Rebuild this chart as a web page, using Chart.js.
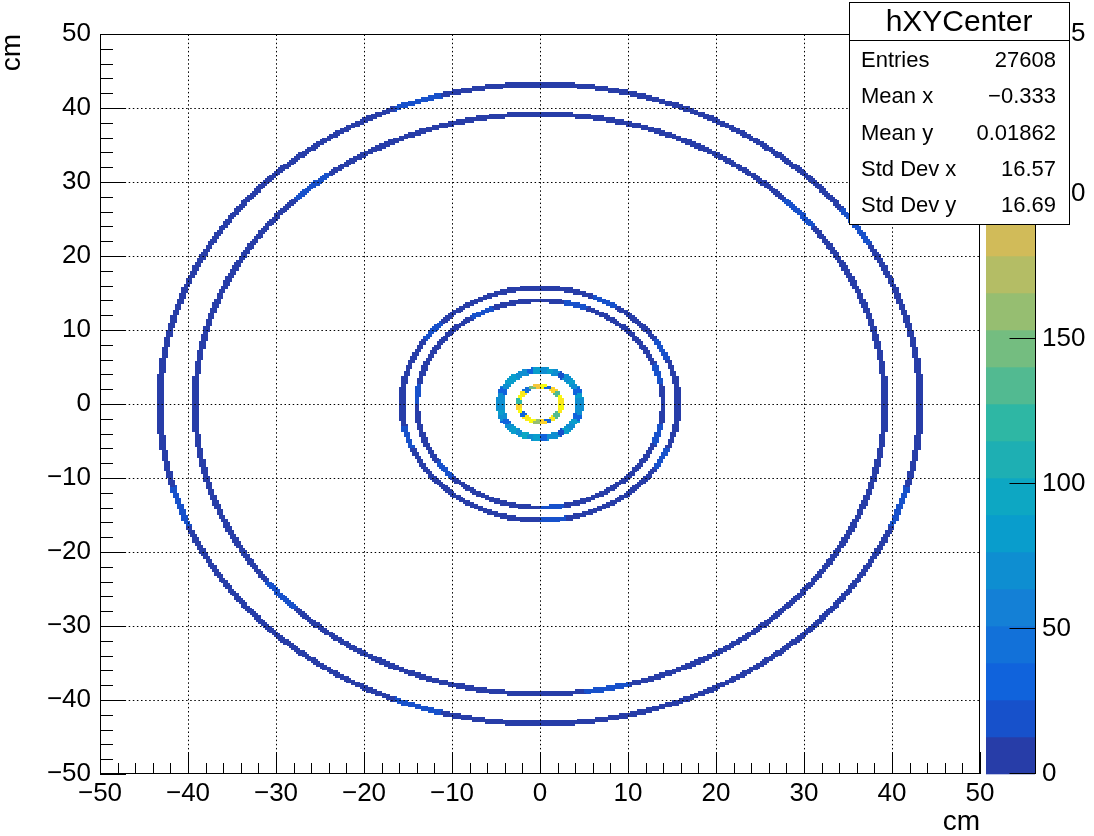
<!DOCTYPE html>
<html>
<head>
<meta charset="utf-8">
<script src="https://cdn.jsdelivr.net/npm/chart.js@4.4.1/dist/chart.umd.min.js"></script>
<style>
html,body{margin:0;padding:0;background:#fff;}
#wrap{width:1094px;height:836px;position:relative;}
canvas{display:block;}
</style>
</head>
<body>
<div id="wrap"><canvas id="c" width="1094" height="836"></canvas></div>
<script>
// ---------------- data ----------------
const histName = 'hXYCenter';
const xTitle = 'cm';
const yTitle = 'cm';
const xRange = [-50, 50];
const yRange = [-50, 50];
const zRange = [0, 255];
const nBinsX = 400;
const nBinsY = 400;
const majorStep = 10;
const minorPerMajor = 5;
const zTickStep = 50;
const nContours = 20;

const statsLabels = ['Entries', 'Mean x', 'Mean y', 'Std Dev x', 'Std Dev y'];
const statsValues = ['27608', '\u22120.333', '0.01862', '16.57', '16.69'];

// rings of filled cells (radius in cm, half width in cm), counts per angular sector (starting at +x, counter-clockwise)
const ringRadius    = [43.2, 39.2, 15.7, 14.0, 4.55, 2.4];
const ringHalfWidth = [0.36, 0.36, 0.34, 0.34, 0.45, 0.32];
const ring1Counts = [9,11,8,11,14,7,10,12,9,8,11,10,10,7,13,9,12,10,8,10,11,9,9,7,12,10,13,8,11,9,10,10,8,14,11,9,12,7,10,10,9,12,8,11,10,13,9,12];
const ring2Counts = [11,8,12,10,9,14,8,12,10,11,9,7,12,11,10,8,10,13,9,11,8,12,10,12,9,11,7,11,10,14,8,12,11,9,10,10,8,13,11,9,12,10,8,10,12,9,11,10];
const ring3Counts = [12,9,14,11,10,15,9,12,10,12,8,11,14,10,12,9,11,13,10,8,12,11,9,12,14,10,12,9,11,15,10,12];
const ring4Counts = [11,13,10,12,9,12,15,10,11,12,14,9,10,12,11,14,12,9,10,14,11,12,12,10,13,9,12,11,10,12,13,9];
const ring5Counts = [72,78,28,66,80,74,22,69,77,64,82,35,73,67,79,88,70,27,76,71,65,81,72,33,75,79,68,92,66,78,38,73,70,24,77,69,83,31,74,68];
const ring6Counts = [240,255,130,228,35,245,210,150,40,232,250,120,218,246,28,236,252,160,222,30,242,138,230,248];
const ringCounts = [ring1Counts, ring2Counts, ring3Counts, ring4Counts, ring5Counts, ring6Counts];

// ---------------- palette (ROOT kBird) ----------------
const birdStops = [0,0.125,0.25,0.375,0.5,0.625,0.75,0.875,1];
const birdR = [0.2082,0.0592,0.0780,0.0232,0.1802,0.5301,0.8186,0.9956,0.9764];
const birdG = [0.1664,0.3599,0.5041,0.6419,0.7178,0.7492,0.7328,0.7862,0.9832];
const birdB = [0.5293,0.8684,0.8385,0.7914,0.6425,0.4662,0.3499,0.1968,0.0539];
function bird(f){
  let k = 0;
  while (k < birdStops.length - 2 && f > birdStops[k+1]) k++;
  const t = (f - birdStops[k]) / (birdStops[k+1] - birdStops[k]);
  const c = a => Math.round(255 * (a[k] + (a[k+1] - a[k]) * t));
  return 'rgb(' + c(birdR) + ',' + c(birdG) + ',' + c(birdB) + ')';
}
const bandColors = [];
for (let i = 0; i < nContours; i++) bandColors.push(bird(Math.floor((i + 0.99) * 255 / nContours) / 254));
function colorFor(v){
  const w = (zRange[1] - zRange[0]) / nContours;
  let b = Math.floor((v - zRange[0]) / w);
  if (b < 0) b = 0; if (b > nContours - 1) b = nContours - 1;
  return bandColors[b];
}

// ---------------- rasterise the rings into bins ----------------
const bw = (xRange[1] - xRange[0]) / nBinsX;
const bh = (yRange[1] - yRange[0]) / nBinsY;
const cells = [];
for (let i = 0; i < nBinsX; i++) {
  const xc = xRange[0] + (i + 0.5) * bw;
  for (let j = 0; j < nBinsY; j++) {
    const yc = yRange[0] + (j + 0.5) * bh;
    const r = Math.hypot(xc, yc);
    for (let k = 0; k < ringRadius.length; k++) {
      if (Math.abs(r - ringRadius[k]) <= ringHalfWidth[k]) {
        const arr = ringCounts[k];
        const a = (Math.atan2(yc, xc) + 2 * Math.PI) % (2 * Math.PI);
        const s = Math.min(arr.length - 1, Math.floor(a / (2 * Math.PI) * arr.length));
        cells.push({x: xc, y: yc, v: arr[s]});
        break;
      }
    }
  }
}

// ---------------- chart ----------------
const FONT = '"Liberation Sans", Arial, Helvetica, sans-serif';
const L = 100, R = 980, T = 34, B = 774;
const fmt = v => (v < 0 ? '\u2212' + Math.abs(v) : String(v));

const th2Plugin = {
  id: 'th2',
  beforeDatasetsDraw(chart) {
    const {ctx, chartArea: ca} = chart;
    const xs = chart.scales.x, ys = chart.scales.y;
    const data = chart.data.datasets[0].data;
    ctx.save();
    ctx.beginPath(); ctx.rect(ca.left, ca.top, ca.right - ca.left, ca.bottom - ca.top); ctx.clip();
    for (const c of data) {
      const x0 = Math.round(xs.getPixelForValue(c.x - bw / 2)), x1 = Math.round(xs.getPixelForValue(c.x + bw / 2));
      const y0 = Math.round(ys.getPixelForValue(c.y - bh / 2)), y1 = Math.round(ys.getPixelForValue(c.y + bh / 2));
      ctx.fillStyle = colorFor(c.v);
      ctx.fillRect(x0, y1, x1 - x0, y0 - y1);
    }
    ctx.restore();
  },
  afterDatasetsDraw(chart) {
    const {ctx, chartArea: ca} = chart;
    const xs = chart.scales.x, ys = chart.scales.y, zs = chart.scales.z;
    ctx.save();
    ctx.strokeStyle = '#000';
    ctx.lineWidth = 1;
    // dotted grid
    ctx.setLineDash([1.5, 2.6]);
    xs.ticks.forEach(t => {
      const p = Math.round(xs.getPixelForValue(t.value)) + 0.5;
      if (t.value === xRange[0] || t.value === xRange[1]) return;
      ctx.beginPath(); ctx.moveTo(p, ca.bottom); ctx.lineTo(p, ca.top); ctx.stroke();
    });
    ys.ticks.forEach(t => {
      const p = Math.round(ys.getPixelForValue(t.value)) + 0.5;
      if (t.value === yRange[0] || t.value === yRange[1]) return;
      ctx.beginPath(); ctx.moveTo(ca.left, p); ctx.lineTo(ca.right, p); ctx.stroke();
    });
    ctx.setLineDash([]);
    // frame
    ctx.strokeRect(ca.left + 0.5, ca.top + 0.5, ca.right - ca.left - 1, ca.bottom - ca.top - 1);
    // ticks on x axis
    const xMaj = xs.ticks.map(t => t.value);
    for (let m = 0; m < xMaj.length; m++) {
      const p = Math.round(xs.getPixelForValue(xMaj[m])) + 0.5;
      ctx.beginPath(); ctx.moveTo(p, ca.bottom); ctx.lineTo(p, ca.bottom - 22); ctx.stroke();
      if (m < xMaj.length - 1) {
        for (let k = 1; k < minorPerMajor; k++) {
          const v = xMaj[m] + (xMaj[m+1] - xMaj[m]) * k / minorPerMajor;
          const q = Math.round(xs.getPixelForValue(v)) + 0.5;
          ctx.beginPath(); ctx.moveTo(q, ca.bottom); ctx.lineTo(q, ca.bottom - 11); ctx.stroke();
        }
      }
    }
    const yMaj = ys.ticks.map(t => t.value);
    for (let m = 0; m < yMaj.length; m++) {
      const p = Math.round(ys.getPixelForValue(yMaj[m])) + 0.5;
      ctx.beginPath(); ctx.moveTo(ca.left, p); ctx.lineTo(ca.left + 26, p); ctx.stroke();
      if (m < yMaj.length - 1) {
        for (let k = 1; k < minorPerMajor; k++) {
          const v = yMaj[m] + (yMaj[m+1] - yMaj[m]) * k / minorPerMajor;
          const q = Math.round(ys.getPixelForValue(v)) + 0.5;
          ctx.beginPath(); ctx.moveTo(ca.left, q); ctx.lineTo(ca.left + 13, q); ctx.stroke();
        }
      }
    }
    // colour bar
    const cbL = 986, cbR = 1035;
    const w = (zRange[1] - zRange[0]) / nContours;
    for (let i = 0; i < nContours; i++) {
      const pa = zs.getPixelForValue(zRange[0] + i * w), pb = zs.getPixelForValue(zRange[0] + (i + 1) * w);
      ctx.fillStyle = bandColors[i];
      ctx.fillRect(cbL, pb, cbR - cbL, pa - pb + 0.3);
    }
    ctx.beginPath(); ctx.moveTo(cbR + 0.5, zs.top); ctx.lineTo(cbR + 0.5, zs.bottom); ctx.stroke();
    zs.ticks.forEach(t => {
      const p = Math.round(zs.getPixelForValue(t.value)) - 0.5;
      ctx.beginPath(); ctx.moveTo(cbR + 0.5, p); ctx.lineTo(cbR + 0.5 - 26, p); ctx.stroke();
    });
    ctx.restore();
  },
  afterDraw(chart) {
    const {ctx} = chart;
    ctx.save();
    const bx = 849, by = 2, bwid = 220, bhei = 222;
    ctx.fillStyle = '#fff';
    ctx.fillRect(bx, by, bwid, bhei);
    ctx.strokeStyle = '#000'; ctx.lineWidth = 1;
    ctx.strokeRect(bx + 0.5, by + 0.5, bwid, bhei);
    ctx.beginPath(); ctx.moveTo(bx, 40.5); ctx.lineTo(bx + bwid, 40.5); ctx.stroke();
    ctx.fillStyle = '#000';
    ctx.textBaseline = 'middle';
    ctx.textAlign = 'center';
    ctx.font = '30px ' + FONT;
    ctx.fillText(histName, bx + bwid / 2, 22.5);
    ctx.font = '22px ' + FONT;
    const rowsY = [61, 97, 133.5, 170, 206];
    for (let i = 0; i < statsLabels.length; i++) {
      ctx.textAlign = 'left';
      ctx.fillText(statsLabels[i], 861, rowsY[i]);
      ctx.textAlign = 'right';
      ctx.fillText(statsValues[i], 1056, rowsY[i]);
    }
    ctx.restore();
  }
};

Chart.defaults.font.family = FONT;
Chart.defaults.color = '#000';

new Chart(document.getElementById('c'), {
  type: 'scatter',
  data: { datasets: [{ label: histName, data: cells, pointRadius: 0, pointHoverRadius: 0, showLine: false }] },
  options: {
    responsive: false,
    animation: false,
    devicePixelRatio: 1,
    events: [],
    layout: { padding: { left: 0, right: 0, top: T, bottom: 0 } },
    plugins: { legend: { display: false }, tooltip: { enabled: false } },
    scales: {
      x: {
        type: 'linear', position: 'bottom', min: xRange[0], max: xRange[1],
        grid: { display: false, drawTicks: false }, border: { display: false },
        ticks: { stepSize: majorStep, autoSkip: false, maxRotation: 0, padding: 4, color: '#000',
                 font: { size: 26, family: FONT }, callback: v => fmt(v) },
        title: { display: true, text: xTitle, align: 'end', color: '#000', padding: 0,
                 font: { size: 28, family: FONT, lineHeight: 1 } },
        afterFit(s) { s.height = 836 - B; s.paddingLeft = 0; s.paddingRight = 0; }
      },
      y: {
        type: 'linear', position: 'left', min: yRange[0], max: yRange[1],
        grid: { display: false, drawTicks: false }, border: { display: false },
        ticks: { stepSize: majorStep, autoSkip: false, padding: 9, color: '#000',
                 font: { size: 26, family: FONT }, callback: v => fmt(v) },
        title: { display: true, text: yTitle, align: 'end', color: '#000', padding: 0,
                 font: { size: 28, family: FONT, lineHeight: 0.9 } },
        afterFit(s) { s.width = L; s.paddingTop = 0; s.paddingBottom = 0; }
      },
      z: {
        type: 'linear', position: 'right', min: zRange[0], max: zRange[1],
        grid: { display: false, drawTicks: false }, border: { display: false },
        ticks: { stepSize: zTickStep, autoSkip: false, padding: 62, color: '#000',
                 font: { size: 26, family: FONT } },
        afterFit(s) { s.width = 1094 - R; s.paddingTop = 0; s.paddingBottom = 0; }
      }
    }
  },
  plugins: [th2Plugin]
});
</script>
</body>
</html>
